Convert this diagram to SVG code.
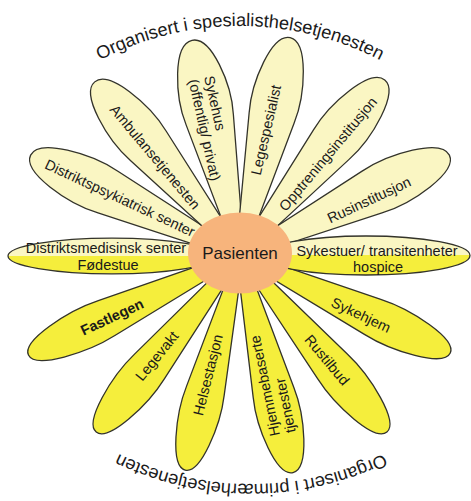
<svg xmlns="http://www.w3.org/2000/svg" xmlns:xlink="http://www.w3.org/1999/xlink" width="471" height="501" viewBox="0 0 471 501">
<style>
.petal{stroke:#33332a;stroke-width:1.3}
.spec{fill:#faf6c3}
.prim{fill:#f5ee3c}
.lbl{font-family:"Liberation Sans",Arial,sans-serif;font-size:14.5px;fill:#1a1a1a}
.arc{font-family:"Liberation Sans",Arial,sans-serif;font-size:18.2px;fill:#1a1a1a}
.c{text-anchor:middle}
.b{font-weight:bold}
</style>
<defs>
<path id="p" vector-effect="non-scaling-stroke" d="M0,-4 L140,-22 C170,-26.4 222,-18 222,0 C222,18 170,26.4 140,22 L0,4 Z"/>
<linearGradient id="half" x1="0" y1="0" x2="0" y2="1"><stop offset="0.5" stop-color="#faf6c3"/><stop offset="0.5" stop-color="#f5ee3c"/></linearGradient>
<path id="arcTop" d="M70,78 A304,304 0 0 1 410,78"/>
<path id="arcBot" d="M411,438.5 A304,304 0 0 1 91,438.5"/>
</defs>

<g id="nodes">
<g id="distriktspsykiatrisk">
<use href="#p" class="petal spec" transform="translate(240,255) rotate(-154.5) scale(1.045,1.05)"/>
<text class="lbl c" transform="translate(120,198) rotate(25)" y="5">Distriktspsykiatrisk senter</text>
</g>
<g id="ambulanse">
<use href="#p" class="petal spec" transform="translate(240,255) rotate(-130) scale(1.018,1.05)"/>
<text class="lbl c" transform="translate(155,157) rotate(50)" y="5">Ambulansetjenesten</text>
</g>
<g id="sykehus">
<use href="#p" class="petal spec" transform="translate(240,255) rotate(-102.6) scale(0.991,1.1)"/>
<text class="lbl" transform="translate(204,77) rotate(77.4)"><tspan x="0" y="0">Sykehus</tspan><tspan x="0" y="16">(offentlig/ privat)</tspan></text>
</g>
<g id="legespesialist">
<use href="#p" class="petal spec" transform="translate(240,255) rotate(-77) scale(1.005,1.05)"/>
<text class="lbl c" transform="translate(266,130) rotate(-77)" y="5">Legespesialist</text>
</g>
<g id="opptrening">
<use href="#p" class="petal spec" transform="translate(240,255) rotate(-50.4) scale(1.023,1.05)"/>
<text class="lbl c" transform="translate(328,154) rotate(-50)" y="5">Opptreningsinstitusjon</text>
</g>
<g id="rusinstitusjon">
<use href="#p" class="petal spec" transform="translate(240,255) rotate(-25.5) scale(1.045,1.05)"/>
<text class="lbl c" transform="translate(369,200) rotate(-25)" y="5">Rusinstitusjon</text>
</g>
<g id="fastlegen">
<use href="#p" class="petal prim" transform="translate(240,255) rotate(154.7) scale(1.054,0.88)"/>
<text class="lbl c b" transform="translate(112,317) rotate(-25)" y="5">Fastlegen</text>
</g>
<g id="legevakt">
<use href="#p" class="petal prim" transform="translate(240,255) rotate(129.1) scale(1.027,0.88)"/>
<text class="lbl c" transform="translate(157,356) rotate(-51)" y="5">Legevakt</text>
</g>
<g id="helsestasjon">
<use href="#p" class="petal prim" transform="translate(240,255) rotate(104.3) scale(1.0,0.88)"/>
<text class="lbl c" transform="translate(208,375) rotate(-76)" y="5">Helsestasjon</text>
</g>
<g id="hjemmebaserte">
<use href="#p" class="petal prim" transform="translate(240,255) rotate(76.3) scale(1.009,0.95)"/>
<text class="lbl" transform="translate(280,435) rotate(-101.5)"><tspan x="0" y="0">Hjemmebaserte</tspan><tspan x="0" y="16">tjenester</tspan></text>
</g>
<g id="rustilbud">
<use href="#p" class="petal prim" transform="translate(240,255) rotate(50.3) scale(1.036,0.88)"/>
<text class="lbl c" transform="translate(327,360) rotate(50)" y="5">Rustilbud</text>
</g>
<g id="sykehjem">
<use href="#p" class="petal prim" transform="translate(240,255) rotate(25) scale(1.045,0.88)"/>
<text class="lbl c" transform="translate(361,315) rotate(25)" y="5">Sykehjem</text>
</g>
<g id="distriktsmedisinsk">
<ellipse class="petal" fill="url(#half)" cx="112" cy="256" rx="104" ry="17.8"/>
<text class="lbl c" x="106" y="253">Distriktsmedisinsk senter</text>
<text class="lbl c" x="108" y="270">Fødestue</text>
</g>
<g id="sykestuer">
<ellipse class="petal" fill="url(#half)" cx="366" cy="255.5" rx="104" ry="19.5"/>
<text class="lbl c" x="377" y="255.5">Sykestuer/ transitenheter</text>
<text class="lbl c" x="378" y="272">hospice</text>
</g>
<g id="pasienten">
<ellipse cx="240" cy="253" rx="52" ry="40.5" fill="#f7b47c"/>
<text x="240" y="259" class="c" style="font-family:'Liberation Sans',Arial,sans-serif;font-size:17px;fill:#1a1a1a">Pasienten</text>
</g>
</g>

<g id="labels-arc">
<text class="arc"><textPath href="#arcTop" startOffset="50%" text-anchor="middle">Organisert i spesialisthelsetjenesten</textPath></text>
<text class="arc"><textPath href="#arcBot" startOffset="50%" text-anchor="middle">Organisert i primærhelsetjenesten</textPath></text>
</g>
</svg>
